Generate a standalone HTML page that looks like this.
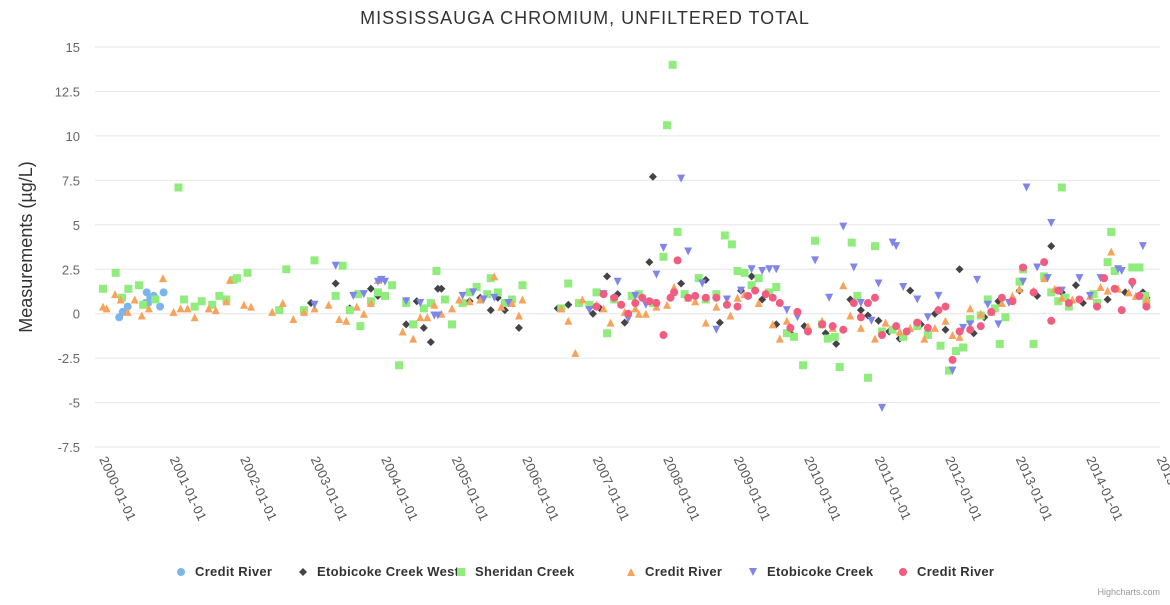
<!DOCTYPE html>
<html><head><meta charset="utf-8"><style>
body{margin:0;background:#fff;font-family:"Liberation Sans",sans-serif}
svg text{font-family:"Liberation Sans",sans-serif}
</style></head><body>
<svg id="chart" width="1170" height="600" xmlns="http://www.w3.org/2000/svg">
<text x="585" y="24" text-anchor="middle" font-size="18" letter-spacing="1" fill="#333">MISSISSAUGA CHROMIUM, UNFILTERED TOTAL</text>
<g id="grid"></g><g id="yticks"></g><g id="xticks"></g><g id="marks"></g><g id="legend"></g>
<text transform="translate(32,247) rotate(-90)" text-anchor="middle" font-size="18" fill="#333">Measurements (µg/L)</text>
<text x="1160" y="595" text-anchor="end" font-size="9" fill="#999">Highcharts.com</text>
</svg>
<script>
const yTicks=[-7.5,-5,-2.5,0,2.5,5,7.5,10,12.5,15];
const yTickLabels=["-7.5","-5","-2.5","0","2.5","5","7.5","10","12.5","15"];
const xTicks=[2000,2001,2002,2003,2004,2005,2006,2007,2008,2009,2010,2011,2012,2013,2014,2015];
const xTickLabels=["2000-01-01","2001-01-01","2002-01-01","2003-01-01","2004-01-01","2005-01-01","2006-01-01","2007-01-01","2008-01-01","2009-01-01","2010-01-01","2011-01-01","2012-01-01","2013-01-01","2014-01-01","2015-01-01"];
const seriesNames=["Credit River","Etobicoke Creek West","Sheridan Creek","Credit River","Etobicoke Creek","Credit River"];
const creditRiverA=[[2000.23,-0.2],[2000.28,0.1],[2000.35,0.4],[2000.6,0.6],[2000.62,1.2],[2000.67,0.9],[2000.72,1.0],[2000.81,0.4],[2000.86,1.2],[2000.64,0.6]];
const etobicokeWest=[[2002.95,0.6],[2003.3,1.7],[2003.5,0.3],[2003.6,1.1],[2003.8,1.4],[2003.9,1.0],[2004.3,-0.6],[2004.45,0.7],[2004.55,-0.8],[2004.65,-1.6],[2004.75,1.4],[2004.8,1.4],[2005.2,0.7],[2005.35,0.9],[2005.5,0.2],[2005.6,0.9],[2005.7,0.2],[2005.9,-0.8],[2006.45,0.3],[2006.6,0.5],[2006.95,0.0],[2007.05,0.3],[2007.15,2.1],[2007.3,1.1],[2007.4,-0.5],[2007.55,0.6],[2007.75,2.9],[2007.8,7.7],[2008.2,1.7],[2008.55,1.9],[2008.75,-0.5],[2009.05,1.3],[2009.2,2.1],[2009.35,0.8],[2009.55,-0.6],[2009.75,-1.1],[2009.95,-0.7],[2010.25,-1.1],[2010.4,-1.7],[2010.6,0.8],[2010.75,0.2],[2010.85,-0.1],[2011.0,-0.4],[2011.15,-1.0],[2011.3,-1.4],[2011.45,1.3],[2011.6,-0.6],[2011.8,0.0],[2011.95,-0.9],[2012.15,2.5],[2012.35,-1.1],[2012.5,-0.2],[2012.7,0.7],[2013.0,1.3],[2013.25,1.0],[2013.45,3.8],[2013.6,1.2],[2013.8,1.6],[2013.9,0.6],[2014.25,0.8],[2014.5,1.2],[2014.75,1.2],[2014.8,0.9]];
const sheridan=[[2000.0,1.4],[2000.18,2.3],[2000.27,0.9],[2000.36,1.4],[2000.51,1.6],[2000.57,0.5],[2000.74,0.8],[2001.07,7.1],[2001.15,0.8],[2001.3,0.4],[2001.4,0.7],[2001.55,0.5],[2001.65,1.0],[2001.75,0.8],[2001.85,1.9],[2001.9,2.0],[2002.05,2.3],[2002.5,0.2],[2002.6,2.5],[2002.85,0.2],[2003.0,3.0],[2003.3,1.0],[2003.4,2.7],[2003.5,0.2],[2003.62,1.1],[2003.65,-0.7],[2003.8,0.7],[2003.9,1.2],[2004.0,1.0],[2004.1,1.6],[2004.2,-2.9],[2004.3,0.6],[2004.4,-0.6],[2004.55,0.3],[2004.65,0.6],[2004.73,2.4],[2004.85,0.8],[2004.95,-0.6],[2005.1,0.6],[2005.2,1.2],[2005.3,1.5],[2005.45,1.1],[2005.5,2.0],[2005.6,1.2],[2005.7,0.6],[2005.8,0.8],[2005.95,1.6],[2006.5,0.3],[2006.6,1.7],[2006.75,0.6],[2006.9,0.5],[2007.0,1.2],[2007.15,-1.1],[2007.25,0.8],[2007.5,1.0],[2007.6,1.1],[2007.8,0.6],[2007.95,3.2],[2008.0,10.6],[2008.08,14.0],[2008.15,4.6],[2008.25,1.1],[2008.45,2.0],[2008.55,0.8],[2008.7,1.1],[2008.82,4.4],[2008.92,3.9],[2009.0,2.4],[2009.1,2.3],[2009.2,1.6],[2009.3,2.0],[2009.45,1.2],[2009.55,1.5],[2009.7,-1.1],[2009.8,-1.3],[2009.93,-2.9],[2010.1,4.1],[2010.2,-0.6],[2010.28,-1.4],[2010.38,-1.3],[2010.45,-3.0],[2010.62,4.0],[2010.7,1.0],[2010.85,-3.6],[2010.95,3.8],[2011.05,-1.0],[2011.2,-0.9],[2011.35,-1.3],[2011.55,-0.7],[2011.7,-1.2],[2011.88,-1.8],[2012.0,-3.2],[2012.1,-2.1],[2012.2,-1.9],[2012.3,-0.3],[2012.45,-0.1],[2012.55,0.8],[2012.65,0.3],[2012.72,-1.7],[2012.8,-0.2],[2013.0,1.8],[2013.05,2.5],[2013.2,-1.7],[2013.35,2.1],[2013.45,1.2],[2013.55,0.7],[2013.6,7.1],[2013.65,0.9],[2013.7,0.4],[2014.05,1.1],[2014.1,0.6],[2014.25,2.9],[2014.3,4.6],[2014.35,2.4],[2014.6,2.6],[2014.7,2.6],[2014.78,1.0],[2014.8,0.6]];
const creditRiverB=[[2000.0,0.4],[2000.05,0.3],[2000.17,1.1],[2000.25,0.8],[2000.35,0.1],[2000.45,0.8],[2000.55,-0.1],[2000.65,0.3],[2000.85,2.0],[2001.0,0.1],[2001.1,0.3],[2001.2,0.3],[2001.3,-0.2],[2001.5,0.3],[2001.6,0.2],[2001.75,0.7],[2001.8,1.9],[2002.0,0.5],[2002.1,0.4],[2002.4,0.1],[2002.55,0.6],[2002.7,-0.3],[2002.85,0.1],[2003.0,0.3],[2003.2,0.5],[2003.35,-0.3],[2003.45,-0.4],[2003.6,0.4],[2003.7,0.0],[2003.8,0.6],[2003.9,1.9],[2004.25,-1.0],[2004.4,-1.4],[2004.5,-0.2],[2004.6,-0.2],[2004.7,0.5],[2004.8,0.0],[2004.95,0.3],[2005.05,0.8],[2005.2,0.7],[2005.35,0.8],[2005.55,2.1],[2005.65,0.4],[2005.8,0.6],[2005.9,-0.1],[2005.95,0.8],[2006.5,0.3],[2006.6,-0.4],[2006.7,-2.2],[2006.8,0.8],[2007.0,0.5],[2007.1,0.3],[2007.2,-0.5],[2007.4,0.1],[2007.55,0.3],[2007.6,0.0],[2007.7,0.0],[2007.85,0.4],[2008.0,0.5],[2008.1,1.5],[2008.3,0.9],[2008.4,0.7],[2008.55,-0.5],[2008.7,0.4],[2008.9,-0.1],[2009.0,0.9],[2009.1,1.1],[2009.3,0.6],[2009.5,-0.6],[2009.6,-1.4],[2009.7,-0.4],[2010.0,-0.7],[2010.2,-0.4],[2010.35,-0.8],[2010.5,1.6],[2010.6,-0.1],[2010.75,-0.8],[2010.95,-1.4],[2011.1,-0.5],[2011.3,-1.0],[2011.45,-0.8],[2011.65,-1.4],[2011.8,-0.8],[2011.95,-0.4],[2012.05,-1.2],[2012.15,-1.3],[2012.3,0.3],[2012.45,0.0],[2012.6,0.1],[2012.75,0.6],[2012.9,1.0],[2013.0,1.4],[2013.2,1.3],[2013.35,2.0],[2013.5,1.4],[2013.6,0.9],[2013.75,0.8],[2014.0,1.0],[2014.15,1.5],[2014.25,1.3],[2014.3,3.5],[2014.4,1.4],[2014.55,1.2],[2014.65,1.0],[2014.8,0.8]];
const etobicoke=[[2003.0,0.5],[2003.3,2.7],[2003.55,1.0],[2003.7,1.1],[2003.9,1.8],[2003.95,1.9],[2004.0,1.8],[2004.3,0.7],[2004.5,0.6],[2004.7,-0.1],[2004.75,-0.1],[2005.1,1.0],[2005.25,1.2],[2005.4,0.8],[2005.55,0.9],[2005.75,0.6],[2006.9,0.2],[2007.1,1.1],[2007.3,1.8],[2007.45,-0.3],[2007.55,1.0],[2007.7,0.5],[2007.85,2.2],[2007.95,3.7],[2008.2,7.6],[2008.3,3.5],[2008.5,1.7],[2008.7,-0.9],[2008.85,0.8],[2009.05,1.3],[2009.2,2.5],[2009.35,2.4],[2009.45,2.5],[2009.55,2.5],[2009.7,0.2],[2009.85,-0.2],[2010.1,3.0],[2010.3,0.9],[2010.5,4.9],[2010.65,2.6],[2010.75,0.6],[2010.9,-0.4],[2011.05,-5.3],[2011.0,1.7],[2011.2,4.0],[2011.25,3.8],[2011.35,1.5],[2011.55,0.8],[2011.7,-0.2],[2011.85,1.0],[2012.05,-3.2],[2012.2,-0.8],[2012.3,-0.6],[2012.4,1.9],[2012.55,0.5],[2012.7,-0.6],[2012.85,0.6],[2013.05,1.8],[2013.1,7.1],[2013.25,2.6],[2013.4,2.0],[2013.45,5.1],[2013.6,1.3],[2013.85,2.0],[2014.0,1.0],[2014.15,2.0],[2014.4,2.5],[2014.45,2.4],[2014.6,1.6],[2014.75,3.8]];
const creditRiverC=[[2007.0,0.4],[2007.1,1.1],[2007.25,0.9],[2007.35,0.5],[2007.45,0.0],[2007.55,0.6],[2007.65,0.9],[2007.75,0.7],[2007.85,0.6],[2007.95,-1.2],[2008.05,0.9],[2008.1,1.2],[2008.15,3.0],[2008.3,0.9],[2008.4,1.0],[2008.55,0.9],[2008.7,0.9],[2008.85,0.5],[2009.0,0.4],[2009.15,1.0],[2009.25,1.3],[2009.4,1.1],[2009.5,0.9],[2009.6,0.6],[2009.75,-0.8],[2009.85,0.1],[2010.0,-1.0],[2010.2,-0.6],[2010.35,-0.7],[2010.5,-0.9],[2010.65,0.6],[2010.75,-0.2],[2010.85,0.6],[2010.95,0.9],[2011.05,-1.2],[2011.25,-0.7],[2011.4,-1.0],[2011.55,-0.5],[2011.7,-0.8],[2011.85,0.2],[2011.95,0.4],[2012.05,-2.6],[2012.15,-1.0],[2012.3,-0.9],[2012.45,-0.7],[2012.6,0.1],[2012.75,0.9],[2012.9,0.7],[2013.05,2.6],[2013.2,1.2],[2013.35,2.9],[2013.45,-0.4],[2013.55,1.3],[2013.7,0.6],[2013.85,0.8],[2014.1,0.4],[2014.2,2.0],[2014.35,1.4],[2014.45,0.2],[2014.6,1.8],[2014.7,1.0],[2014.8,0.4]];

const NS="http://www.w3.org/2000/svg";
const X0=103,XPY=70.5,Y0=313.7,YPU=17.78;
function xs(t){return X0+(t-2000)*XPY;}
function ys(v){return Y0-v*YPU;}
function mk(tag,at,parent){const e=document.createElementNS(NS,tag);for(const k in at)e.setAttribute(k,at[k]);document.getElementById(parent).appendChild(e);return e;}
yTicks.forEach((v,i)=>{
  const l=mk('line',{x1:95,x2:1160,y1:ys(v),y2:ys(v),stroke:'#e6e6e6'},'grid');
  
  
  const t=mk('text',{x:80,y:ys(v)+5,'text-anchor':'end','font-size':13,fill:'#666'},'yticks');
  t.textContent=yTickLabels[i];
  
  
});
xTicks.forEach((v,i)=>{
  const t=mk('text',{transform:`translate(${xs(v)-4},${459}) rotate(65)`,'font-size':13,fill:'#555','letter-spacing':0.3},'xticks');
  t.textContent=xTickLabels[i];
  
  
});
const colors=["#7cb5ec","#434348","#90ed7d","#f7a35c","#8085e9","#f15c80"];
function shape(type,x,y,c,parent){
  let e;
  if(type==0)e=mk('circle',{cx:x,cy:y,r:4,fill:c},parent);
  else if(type==1)e=mk('path',{d:`M${x} ${y-4}L${x+4} ${y}L${x} ${y+4}L${x-4} ${y}Z`,fill:c},parent);
  else if(type==2)e=mk('rect',{x:x-4,y:y-4,width:8,height:8,fill:c},parent);
  else if(type==3)e=mk('path',{d:`M${x} ${y-4}L${x+4} ${y+4}L${x-4} ${y+4}Z`,fill:c},parent);
  else e=mk('path',{d:`M${x-4} ${y-4}L${x+4} ${y-4}L${x} ${y+4}Z`,fill:c},parent);
  return e;
}
const all=[creditRiverA,etobicokeWest,sheridan,creditRiverB,etobicoke,creditRiverC];
const types=[0,1,2,3,4,0];
all.forEach((s,si)=>{
  s.forEach(p=>{
    const e=shape(types[si],xs(p[0]),ys(p[1]),colors[si],'marks');
    
    
  });
});
const legX=[181,303,461,631,753,903];
seriesNames.forEach((n,i)=>{
  const g=shape(types[i],legX[i],572,colors[i],'legend');
  
  
  const t=mk('text',{x:legX[i]+14,y:576,'font-size':13,'font-weight':'bold',fill:'#333','letter-spacing':0.3},'legend');
  t.textContent=n;
  
  
});
</script>
</body></html>
